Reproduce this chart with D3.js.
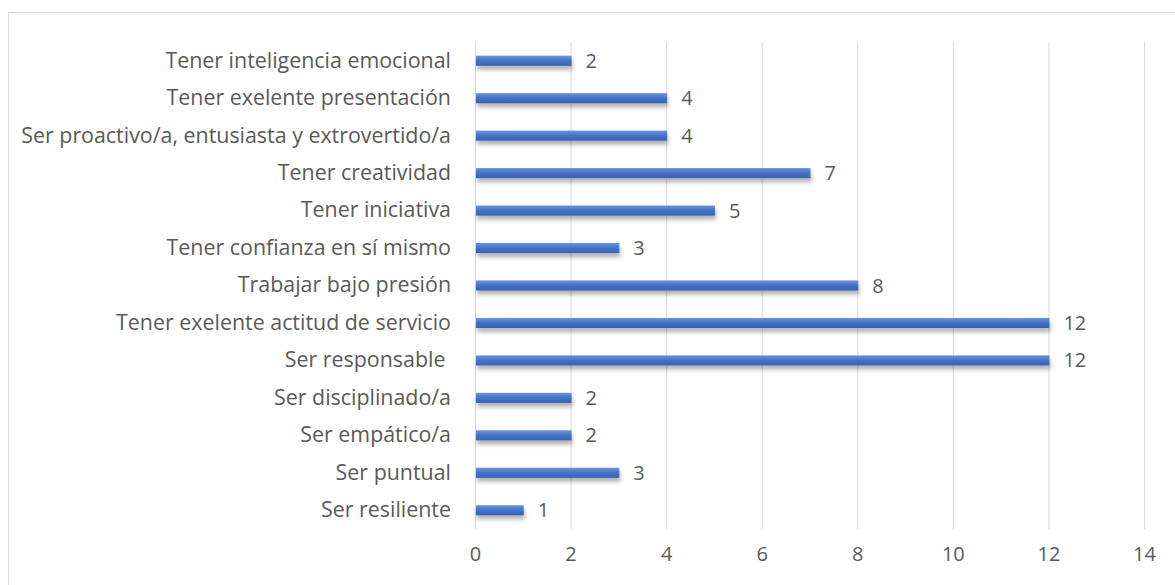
<!DOCTYPE html>
<html>
<head>
<meta charset="utf-8">
<script src="https://cdn.jsdelivr.net/npm/d3@7"></script>
<style>
  body { margin: 0; background: #fff; }
  text { font-family: "Open Sans", "Noto Sans", sans-serif; fill: #595959; }
</style>
</head>
<body>
<div id="chart"></div>
<script>
// Categories, top to bottom as drawn
var categories = [
  "Tener inteligencia emocional",
  "Tener exelente presentación",
  "Ser proactivo/a, entusiasta y extrovertido/a",
  "Tener creatividad",
  "Tener iniciativa",
  "Tener confianza en sí mismo",
  "Trabajar bajo presión",
  "Tener exelente actitud de servicio",
  "Ser responsable ",
  "Ser disciplinado/a",
  "Ser empático/a",
  "Ser puntual",
  "Ser resiliente"
];
var counts = [2, 4, 4, 7, 5, 3, 8, 12, 12, 2, 2, 3, 1];
var xTicks = [0, 2, 4, 6, 8, 10, 12, 14];

var svgWidth = 1175;
var svgHeight = 585;

var margin = { top: 42, right: 31, bottom: 56, left: 475 };
var width = svgWidth - margin.left - margin.right;
var height = svgHeight - margin.top - margin.bottom;

var svg = d3.select("#chart")
  .append("svg")
  .attr("width", svgWidth)
  .attr("height", svgHeight);

// outer chart frame
svg.append("rect")
  .attr("x", 8.5)
  .attr("y", 12.5)
  .attr("width", svgWidth)
  .attr("height", svgHeight)
  .attr("fill", "none")
  .attr("stroke", "#d9d9d9");

var defs = svg.append("defs");
var grad = defs.append("linearGradient")
  .attr("id", "barGrad")
  .attr("x1", 0).attr("y1", 0).attr("x2", 0).attr("y2", 1);
grad.append("stop").attr("offset", "0%").attr("stop-color", "#6b93db");
grad.append("stop").attr("offset", "50%").attr("stop-color", "#4472c4");
grad.append("stop").attr("offset", "100%").attr("stop-color", "#3462b8");

var shadow = defs.append("filter")
  .attr("id", "barShadow")
  .attr("x", "-5%").attr("y", "-50%")
  .attr("width", "115%").attr("height", "250%");
shadow.append("feDropShadow")
  .attr("dx", 1).attr("dy", 4)
  .attr("stdDeviation", 2)
  .attr("flood-color", "#000")
  .attr("flood-opacity", 0.3);

var chartGroup = svg.append("g")
  .attr("transform", `translate(${margin.left}, ${margin.top})`);

var xScale = d3.scaleLinear()
  .domain([0, 14])
  .range([0, width]);

var yScale = d3.scaleBand()
  .domain(categories)
  .range([0, height])
  .paddingInner(0.73)
  .paddingOuter(0.365);

// vertical gridlines
chartGroup.append("g")
  .selectAll("line")
  .data(xTicks)
  .enter()
  .append("line")
  .attr("x1", d => xScale(d) + 0.5)
  .attr("x2", d => xScale(d) + 0.5)
  .attr("y1", 0)
  .attr("y2", height)
  .attr("stroke", "#d9d9d9")
  .attr("stroke-width", 1);

// x axis labels
var bottomAxis = d3.axisBottom(xScale)
  .tickValues(xTicks)
  .tickSize(0)
  .tickPadding(18);

var xAxis = chartGroup.append("g")
  .attr("transform", `translate(0, ${height})`)
  .call(bottomAxis);
xAxis.select(".domain").remove();
xAxis.selectAll("text")
  .attr("font-size", 20)
  .style("font-family", null);

// y axis labels
var leftAxis = d3.axisLeft(yScale)
  .tickSize(0)
  .tickPadding(24);

var yAxis = chartGroup.append("g")
  .call(leftAxis);
yAxis.select(".domain").remove();
yAxis.selectAll("text")
  .attr("font-size", 21.4)
  .style("white-space", "pre")
  .style("font-family", null);

// bars
chartGroup.selectAll(".bar")
  .data(counts)
  .enter()
  .append("rect")
  .attr("class", "bar")
  .attr("x", xScale(0) + 1)
  .attr("y", (d, i) => yScale(categories[i]))
  .attr("width", d => xScale(d) - xScale(0))
  .attr("height", yScale.bandwidth())
  .attr("fill", "url(#barGrad)")
  .attr("filter", "url(#barShadow)");

// value labels
chartGroup.selectAll(".val")
  .data(counts)
  .enter()
  .append("text")
  .attr("class", "val")
  .attr("x", d => xScale(d) + 15)
  .attr("y", (d, i) => yScale(categories[i]) + yScale.bandwidth() / 2)
  .attr("dy", "0.35em")
  .attr("font-size", 20)
  .text(d => d);
</script>
</body>
</html>
